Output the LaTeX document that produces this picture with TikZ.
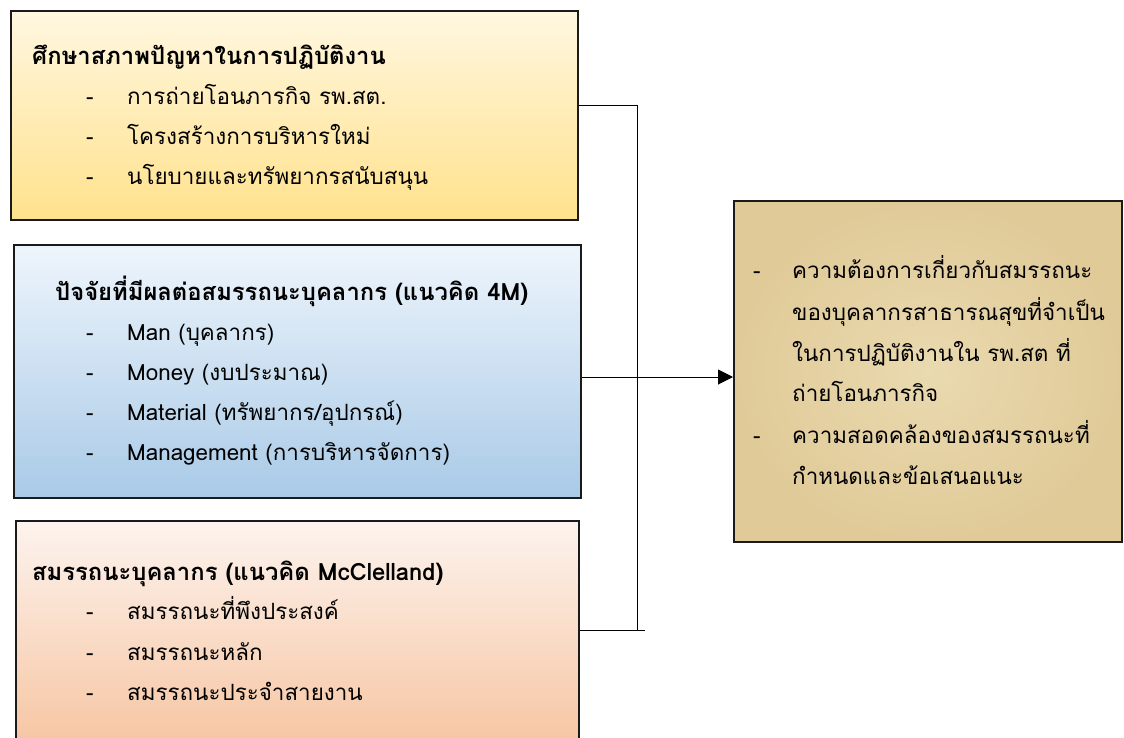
\documentclass[tikz,border=0pt]{standalone}
\usepackage{fontspec}
\setmainfont{Loma}[Script=Thai]
\usetikzlibrary{arrows.meta}
\definecolor{yTop}{HTML}{FFF7E0}
\definecolor{yBot}{HTML}{FFE28C}
\definecolor{bTop}{HTML}{EEF5FC}
\definecolor{bBot}{HTML}{A9CAE7}
\definecolor{oTop}{HTML}{FDF3EE}
\definecolor{oBot}{HTML}{F5BE96}
\definecolor{pIn}{HTML}{EADAB0}
\definecolor{pOut}{HTML}{E0CA98}
\definecolor{edge}{HTML}{1A1A1A}
\tikzset{
  box/.style={draw=edge, line width=2pt, anchor=north west, inner sep=0pt},
  ttl/.style={anchor=base west, inner sep=0pt, font=\fontsize{23.8}{28}\selectfont\bfseries},
  itm/.style={anchor=base west, inner sep=0pt, font=\fontsize{22.4}{26}\selectfont},
  conn/.style={draw=black, line width=1pt}
}
\newcommand{\dashitem}[1]{\makebox[41pt][l]{-}#1}
\begin{document}
\begin{tikzpicture}[x=1pt,y=-1pt]
\useasboundingbox (0,0) rectangle (1124,737);
% boxes
\node[box, minimum width=567pt, minimum height=209pt, top color=yTop, bottom color=yBot] (b1) at (10,10) {};
\node[box, minimum width=567pt, minimum height=253pt, top color=bTop, bottom color=bBot] (b2) at (13,244) {};
\node[box, minimum width=563pt, minimum height=260pt, top color=oTop, bottom color=oBot] (b3) at (15,520) {};
\node[box, minimum width=388pt, minimum height=341pt, inner color=pIn, outer color=pOut] (b4) at (733,200) {};
% box 1 text
\node[ttl] (t1) at (32,64) {ศึกษาสภาพปัญหาในการปฏิบัติงาน};
\node[itm] (t1a) at (86,104) {\dashitem{การถ่ายโอนภารกิจ รพ.สต.}};
\node[itm] (t1b) at (86,144) {\dashitem{โครงสร้างการบริหารใหม่}};
\node[itm] (t1c) at (86,184) {\dashitem{นโยบายและทรัพยากรสนับสนุน}};
% box 2 text
\node[ttl] (t2) at (55,300) {ปัจจัยที่มีผลต่อสมรรถนะบุคลากร (แนวคิด 4M)};
\node[itm] (t2a) at (86,340) {\dashitem{Man (บุคลากร)}};
\node[itm] (t2b) at (86,380) {\dashitem{Money (งบประมาณ)}};
\node[itm] (t2c) at (86,420) {\dashitem{Material (ทรัพยากร/อุปกรณ์)}};
\node[itm] (t2d) at (86,460) {\dashitem{Management (การบริหารจัดการ)}};
% box 3 text
\node[ttl] (t3) at (32,580) {สมรรถนะบุคลากร (แนวคิด McClelland)};
\node[itm] (t3a) at (86,619) {\dashitem{สมรรถนะที่พึงประสงค์}};
\node[itm] (t3b) at (86,660) {\dashitem{สมรรถนะหลัก}};
\node[itm] (t3c) at (86,700) {\dashitem{สมรรถนะประจำสายงาน}};
% box 4 text
\node[itm] (t4a) at (753,278) {\makebox[39pt][l]{-}ความต้องการเกี่ยวกับสมรรถนะ};
\node[itm] (t4b) at (792,320) {ของบุคลากรสาธารณสุขที่จำเป็น};
\node[itm] (t4c) at (792,361) {ในการปฏิบัติงานใน รพ.สต ที่};
\node[itm] (t4d) at (792,401) {ถ่ายโอนภารกิจ};
\node[itm] (t4e) at (753,443) {\makebox[39pt][l]{-}ความสอดคล้องของสมรรถนะที่};
\node[itm] (t4f) at (792,484) {กำหนดและข้อเสนอแนะ};
% connectors
\coordinate (j1) at (637,105);
\coordinate (j3) at (637,630);
\coordinate (ja) at (637,377);
\coordinate (e3) at (645,630);
\draw[conn] (b1.east |- j1) -- (j1) -- (j3);
\draw[conn] (b3.east |- j3) -- (e3);
\draw[conn, -{Triangle[length=15pt,width=15pt]}] (b2.east |- ja) -- (b4.west |- ja);
\end{tikzpicture}
\end{document}
